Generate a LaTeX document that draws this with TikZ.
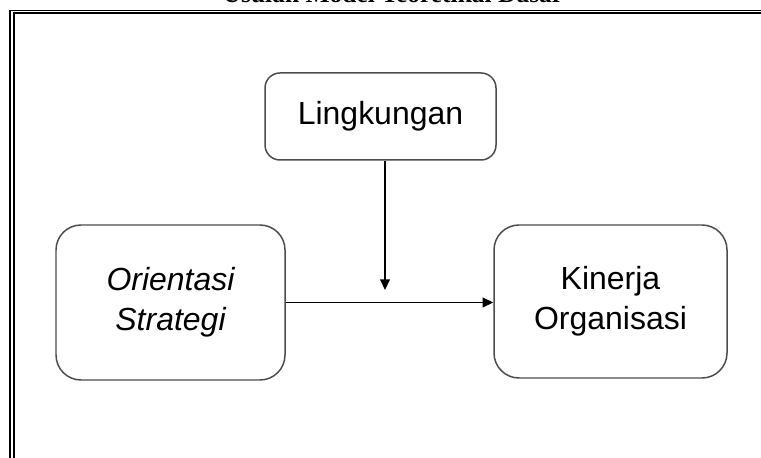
\documentclass[tikz,border=0pt]{standalone}
\usepackage{fontspec}
\setmainfont{Liberation Sans}
\newfontfamily\titlefont{Liberation Serif}
\usetikzlibrary{arrows.meta}
\begin{document}
\begin{tikzpicture}[
    modelbox/.style={draw=black!70, line width=0.85pt, rounded corners=0.4cm,
      align=center, inner sep=0pt, font=\fontsize{18.2}{22.8}\selectfont},
    arr/.style={draw=black, line width=0.85pt, -{Triangle[length=6pt,width=5.5pt]}}
  ]
      \useasboundingbox (0,0) rectangle (15.22,-9.16);
      % title, cut by the page edge
      \node[anchor=base, inner sep=0pt] (title) at (7.86,-0.06)
        {\titlefont\bfseries\fontsize{14.5}{17}\selectfont Usulan Model Teoretikal Dasar};
      % double frame
      \draw[line width=0.74pt] (16,-0.21) -- (0.2,-0.21) -- (0.2,-10);
      \draw[line width=1.14pt] (16,-0.27) -- (0.274,-0.27) -- (0.274,-10);
      % boxes
      \node[modelbox, minimum width=4.62cm, minimum height=1.74cm, rounded corners=0.3cm] (lingk) at (7.61,-2.33) {Lingkungan};
      \node[modelbox, minimum width=4.58cm, minimum height=3.1cm, rounded corners=0.5cm] (orient) at (3.41,-6.05) {\itshape Orientasi\\ \itshape Strategi};
      \node[modelbox, minimum width=4.66cm, minimum height=3.06cm, rounded corners=0.5cm] (kinerja) at (12.21,-6.03) {Kinerja\\Organisasi};
      % arrows
      \coordinate (join) at (7.7,-5.8);
      \draw[arr] (orient.east) -- (orient.east -| kinerja.west);
      \draw[arr] (lingk.south -| join) -- (join);
\end{tikzpicture}
\end{document}
